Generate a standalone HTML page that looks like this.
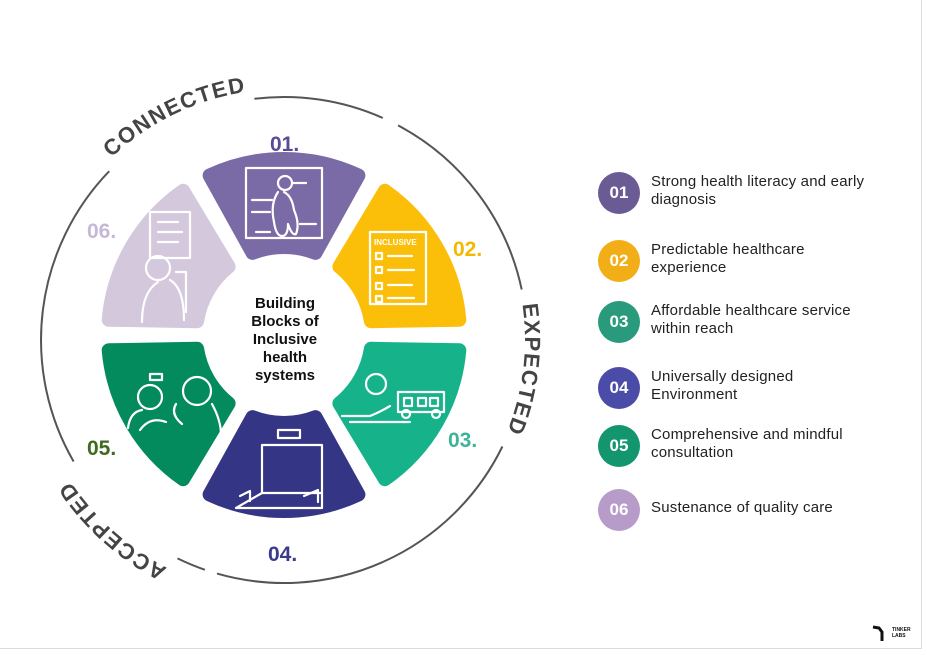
<!DOCTYPE html>
<html><head><meta charset="utf-8"><style>
html,body{margin:0;padding:0;background:#fff}
#w{position:relative;width:927px;height:655px;overflow:hidden;background:#fff}
#frame{position:absolute;left:0;top:0;width:921px;height:648px;border:1px solid #dcdcdc;border-left:none;border-top:none}
.it{position:absolute;left:598px;width:320px;height:44px}
.c{position:absolute;left:0;top:0;width:42px;height:42px;border-radius:50%;color:#fff;font:bold 17px "Liberation Sans",sans-serif;text-align:center;line-height:42px}
.t{position:absolute;left:53px;top:1px;font:15px/18px "Liberation Sans",sans-serif;color:#222;letter-spacing:0.2px}
</style></head><body><div id="w"><div id="frame"></div>
<svg id="s" width="927" height="655" style="position:absolute;left:0;top:0">
<defs id="defs"></defs>
<g id="ring" fill="none" stroke="#555" stroke-width="2"></g>
<g id="segs"></g>
<circle cx="284" cy="335" r="80" fill="#fff"/>
<g font-family="Liberation Sans,sans-serif" font-weight="bold" font-size="22" fill="#444" letter-spacing="1.5" text-anchor="middle">
<text><textPath href="#pc" startOffset="50%">CONNECTED</textPath></text>
<text><textPath href="#pe" startOffset="50%">EXPECTED</textPath></text>
<text><textPath href="#pa" startOffset="50%">ACCEPTED</textPath></text>
</g>
<g font-family="Liberation Sans,sans-serif" font-weight="bold" font-size="21">
<text x="270" y="151" fill="#5b4a94">01.</text>
<text x="453" y="256" fill="#f5b800">02.</text>
<text x="448" y="447" fill="#3fb39a">03.</text>
<text x="268" y="561" fill="#3b3b8a">04.</text>
<text x="87" y="455" fill="#3d6b1f">05.</text>
<text x="87" y="238" fill="#c6b8d8">06.</text>
</g>
<g font-family="Liberation Sans,sans-serif" font-weight="bold" font-size="15" fill="#111" text-anchor="middle">
<text x="285" y="308">Building</text>
<text x="285" y="326">Blocks of</text>
<text x="285" y="344">Inclusive</text>
<text x="285" y="362">health</text>
<text x="285" y="380">systems</text>
</g>
<g fill="none" stroke="#fff" stroke-width="2.2" stroke-linecap="round" stroke-linejoin="round">
<rect x="246" y="168" width="76" height="70"/>
<circle cx="285" cy="183" r="7"/><path d="M278 192 q-8 12 -4 30 q2 14 8 14 q6 0 6 -12 q4 12 8 10 q4 -10 -2 -24 q-2 -14 -10 -18"/>
<path d="M292 183h14M252 200h20M252 212h18M300 224h16M256 232h14"/>
<rect x="370" y="232" width="56" height="72"/><text x="374" y="245" font-size="8" fill="#fff" stroke="none" font-weight="bold" font-family="Liberation Sans">INCLUSIVE</text>
<path d="M376 253h6v6h-6zM388 256h24M376 267h6v6h-6zM388 270h26M376 283h6v6h-6zM388 285h24M376 296h6v6h-6zM388 298h26"/>
<circle cx="376" cy="384" r="10"/><path d="M342 416h28q10-4 20-10M350 422h60M398 392h46v20h-46zM404 398h8v8h-8zM418 398h8v8h-8zM430 398h8v8h-8z"/><circle cx="406" cy="414" r="4"/><circle cx="436" cy="414" r="4"/>
<rect x="262" y="445" width="60" height="48"/><rect x="278" y="430" width="22" height="8"/><path d="M236 508l26-15M322 493l0 15M236 508h86M240 496l10-5v10M304 496l14-6v12"/>
<circle cx="150" cy="397" r="12"/><circle cx="197" cy="391" r="14"/><path d="M128 428q2-16 14-18M140 430q10-14 26-8M176 404q-6 10 6 20M212 404q12 22 8 40M150 374h12v6h-12z"/>
<rect x="150" y="212" width="40" height="46"/><path d="M158 222h20M158 232h24M158 242h20"/><circle cx="158" cy="268" r="12"/><path d="M142 322q0-30 16-40M170 280q14 8 14 40M176 272l10 0 0 40"/>
</g>
</svg>
<div class="it" style="top:172px"><div class="c" style="background:#6b5b95">01</div><div class="t">Strong health literacy and early<br>diagnosis</div></div>
<div class="it" style="top:240px"><div class="c" style="background:#f2ae17">02</div><div class="t">Predictable healthcare<br>experience</div></div>
<div class="it" style="top:301px"><div class="c" style="background:#2a9a7c">03</div><div class="t">Affordable healthcare service<br>within reach</div></div>
<div class="it" style="top:367px"><div class="c" style="background:#4b4ba8">04</div><div class="t">Universally designed<br>Environment</div></div>
<div class="it" style="top:425px"><div class="c" style="background:#13956d">05</div><div class="t">Comprehensive and mindful<br>consultation</div></div>
<div class="it" style="top:489px"><div class="c" style="background:#b79cca">06</div><div class="t" style="top:10px">Sustenance of quality care</div></div>
<div style="position:absolute;left:872px;top:624px;width:14px;height:16px">
<svg width="16" height="18"><path d="M1 3l6 1 3 4 0 9" fill="none" stroke="#111" stroke-width="3"/></svg></div>
<div style="position:absolute;left:892px;top:627px;font:bold 5px 'Liberation Sans',sans-serif;color:#111;line-height:6px">TINKER<br>LABS</div>
</div>
<script>
var cx=284,cy=335,NS="http://www.w3.org/2000/svg";
function P(r,a){a=a*Math.PI/180;return (cx+r*Math.cos(a)).toFixed(1)+" "+(cy+r*Math.sin(a)).toFixed(1);}
var cols=["#7a6aa6","#fbbf0a","#16b28a","#343584","#038b5e","#d3c8dc"];
var g=document.getElementById("segs");
for(var i=0;i<6;i++){var a=-90+60*i,ro=176,ri=88,d1=25,d2=21;
var p=document.createElementNS(NS,"path");
p.setAttribute("d","M"+P(ri,a-d2)+" L"+P(ro,a-d1)+" A"+ro+" "+ro+" 0 0 1 "+P(ro,a+d1)+" L"+P(ri,a+d2)+" A"+ri+" "+ri+" 0 0 0 "+P(ri,a-d2)+"Z");
p.setAttribute("fill",cols[i]);p.setAttribute("stroke",cols[i]);p.setAttribute("stroke-width","14");p.setAttribute("stroke-linejoin","round");g.appendChild(p);}
var ring=document.getElementById("ring"),R=243,cy2=340;
function Q(r,a){a=a*Math.PI/180;return (cx+r*Math.cos(a)).toFixed(1)+" "+(cy2+r*Math.sin(a)).toFixed(1);}
[[-97,-66],[-62,-12],[26,106],[109,116],[150,224]].forEach(function(s){
var q=document.createElementNS(NS,"path");
q.setAttribute("d","M"+Q(R,s[0])+" A"+R+" "+R+" 0 0 1 "+Q(R,s[1]));ring.appendChild(q);});
var defs=document.getElementById("defs");
[["pc",-116,251],["pe",7,241],["pa",132,256]].forEach(function(t){
var q=document.createElementNS(NS,"path");q.setAttribute("id",t[0]);
q.setAttribute("d","M"+Q(t[2],t[1]-60)+" A"+t[2]+" "+t[2]+" 0 0 1 "+Q(t[2],t[1]+60));defs.appendChild(q);});
</script>
</body></html>
